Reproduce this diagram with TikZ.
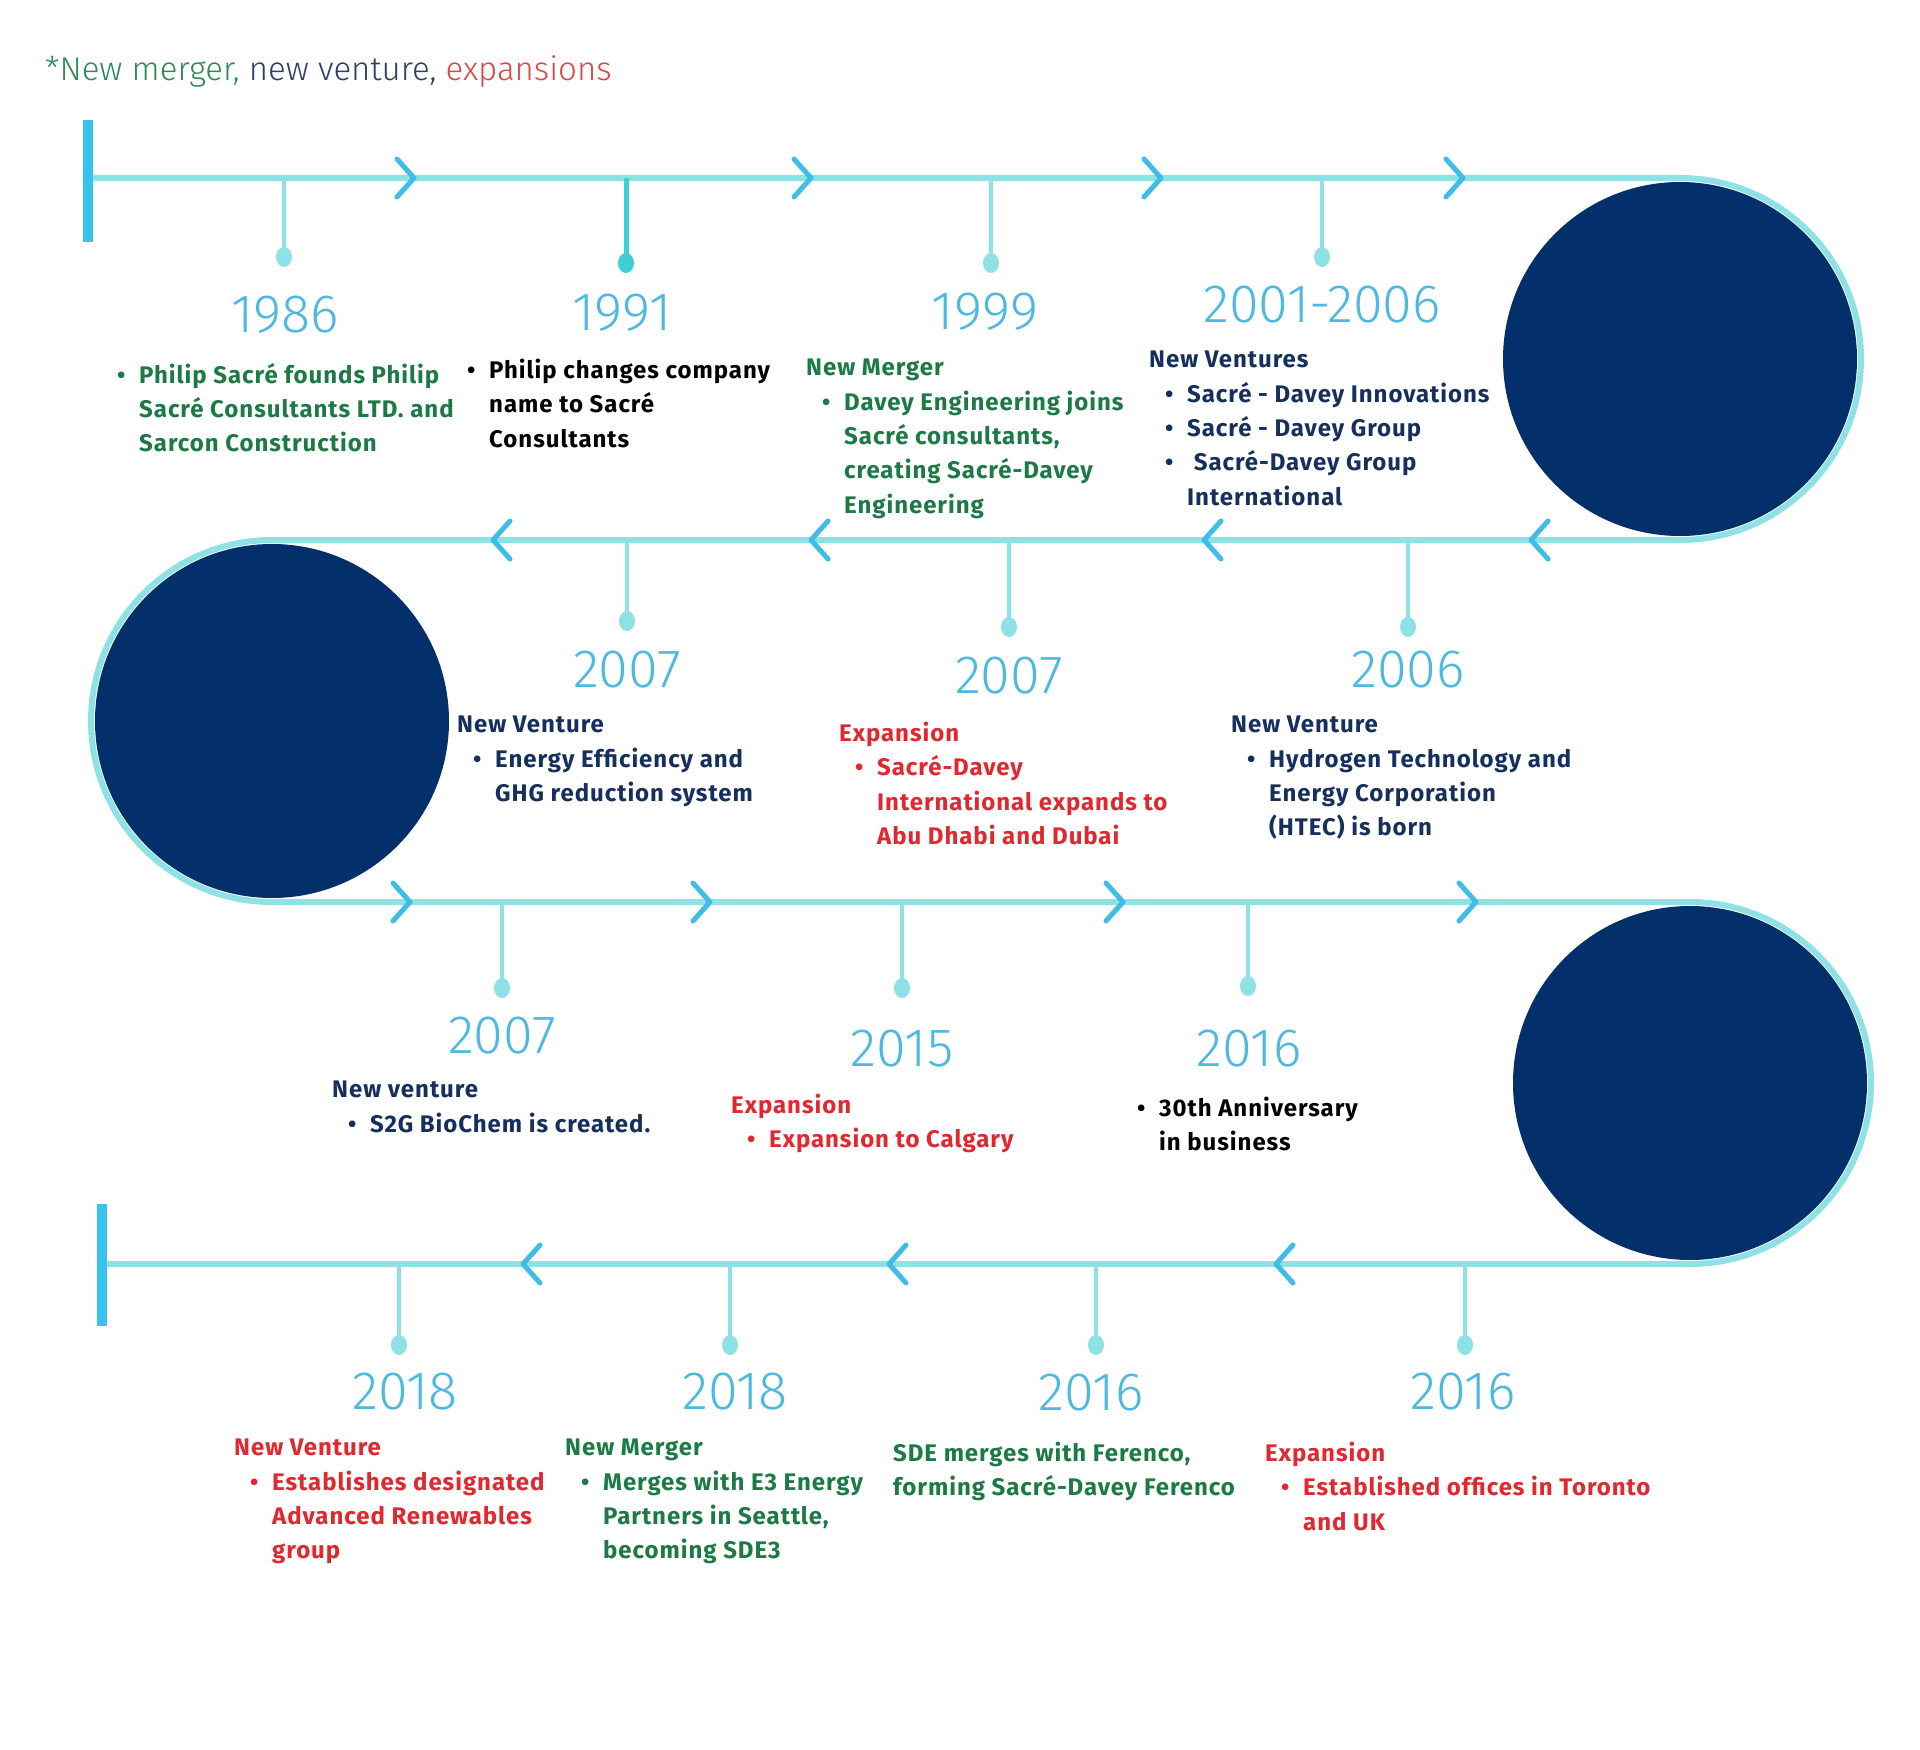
\documentclass[tikz,border=0pt]{standalone}
\usepackage{fontspec}
\setmainfont{Fira Sans}[LetterSpace=4]
\newfontfamily\yearfont{Fira Sans Light}
\usetikzlibrary{shapes.geometric}

\definecolor{tline}{HTML}{8EE2E6}
\definecolor{tchev}{HTML}{3DBDE8}
\definecolor{tbar}{HTML}{38C3EC}
\definecolor{ttick}{HTML}{3ECFD6}
\definecolor{tyear}{HTML}{4DB9E0}
\definecolor{tnavy}{HTML}{03306B}
\definecolor{tgreen}{HTML}{1C7A44}
\definecolor{tdark}{HTML}{15305E}
\definecolor{tred}{HTML}{E0282E}
\definecolor{hgreen}{HTML}{2F8A5A}
\definecolor{hnavy}{HTML}{2B3F6B}
\definecolor{hred}{HTML}{E04545}

\newcommand{\itm}{\hspace*{16pt}\makebox[22pt][l]{\textbullet}}
\newcommand{\cnt}{\hspace*{38pt}}

\begin{document}
\begin{tikzpicture}[x=1pt,y=-1pt,
  line/.style={tline,line width=6pt},
  bar/.style={tbar,line width=10pt},
  chev/.style={tchev,line width=5pt,line cap=round,line join=round},
  tick/.style={tline,line width=4pt},
  dot/.style={ellipse,fill=tline,inner sep=0pt,minimum width=16pt,minimum height=20pt},
  disc/.style={circle,fill=tnavy,inner sep=0pt,minimum size=354pt},
  year/.style={text=tyear,font=\yearfont\fontsize{54}{64}\selectfont,inner sep=0pt},
  evt/.style={anchor=north west,align=left,inner sep=0pt,font=\bfseries\fontsize{24}{34.3}\selectfont}]
  \useasboundingbox[fill=white] (0,0) rectangle (1920,1750);

  % legend line
  \node[anchor=west,inner sep=0pt,font=\yearfont\fontsize{33}{40}\selectfont] (title) at (45,71)
    {\color{hgreen}*New merger, \color{hnavy}new venture, \color{hred}expansions};

  % navy discs at the turns
  \node[disc] (c1) at (1680,359) {};
  \node[disc] (c2) at (272,721) {};
  \node[disc] (c3) at (1690,1083) {};

  % the winding time line
  \draw[line] (88,178) -- (1680,178) arc[start angle=-90,end angle=90,radius=181]
    -- (272,540) arc[start angle=-90,end angle=-270,radius=181]
    -- (1690,902) arc[start angle=-90,end angle=90,radius=181] -- (102,1264);
  \draw[bar] (88,120) -- (88,242);
  \draw[bar] (102,1204) -- (102,1326);

  % chevrons, row 1 and 3 to the right, row 2 and 4 to the left
  \draw[chev] (397,159) -- (414,178) -- (397,197);
  \draw[chev] (794,159) -- (811,178) -- (794,197);
  \draw[chev] (1144,159) -- (1161,178) -- (1144,197);
  \draw[chev] (1446,159) -- (1463,178) -- (1446,197);
  \draw[chev] (510,521) -- (493,540) -- (510,559);
  \draw[chev] (828,521) -- (811,540) -- (828,559);
  \draw[chev] (1221,521) -- (1204,540) -- (1221,559);
  \draw[chev] (1548,521) -- (1531,540) -- (1548,559);
  \draw[chev] (393,883) -- (410,902) -- (393,921);
  \draw[chev] (693,883) -- (710,902) -- (693,921);
  \draw[chev] (1106,883) -- (1123,902) -- (1106,921);
  \draw[chev] (1459,883) -- (1476,902) -- (1459,921);
  \draw[chev] (540,1245) -- (523,1264) -- (540,1283);
  \draw[chev] (906,1245) -- (889,1264) -- (906,1283);
  \draw[chev] (1293,1245) -- (1276,1264) -- (1293,1283);

  % ticks and dots
  \coordinate (k1) at (284,178);   \node[dot] (d1) at (284,257) {};
  \coordinate (k2) at (626,178);   \node[dot,fill=ttick] (d2) at (626,263) {};
  \coordinate (k3) at (991,178);   \node[dot] (d3) at (991,263) {};
  \coordinate (k4) at (1322,178);  \node[dot] (d4) at (1322,257) {};
  \coordinate (k5) at (627,540);   \node[dot] (d5) at (627,621) {};
  \coordinate (k6) at (1009,540);  \node[dot] (d6) at (1009,627) {};
  \coordinate (k7) at (1408,540);  \node[dot] (d7) at (1408,627) {};
  \coordinate (k8) at (502,902);   \node[dot] (d8) at (502,988) {};
  \coordinate (k9) at (902,902);   \node[dot] (d9) at (902,988) {};
  \coordinate (k10) at (1248,902); \node[dot] (d10) at (1248,986) {};
  \coordinate (k11) at (399,1264); \node[dot] (d11) at (399,1345) {};
  \coordinate (k12) at (730,1264); \node[dot] (d12) at (730,1345) {};
  \coordinate (k13) at (1096,1264);\node[dot] (d13) at (1096,1345) {};
  \coordinate (k14) at (1465,1264);\node[dot] (d14) at (1465,1345) {};
  \draw[tick] (k1) -- (d1.center);
  \draw[tick,ttick,line width=5pt] (k2) -- (d2.center);
  \draw[tick] (k3) -- (d3.center);
  \draw[tick] (k4) -- (d4.center);
  \draw[tick] (k5) -- (d5.center);
  \draw[tick] (k6) -- (d6.center);
  \draw[tick] (k7) -- (d7.center);
  \draw[tick] (k8) -- (d8.center);
  \draw[tick] (k9) -- (d9.center);
  \draw[tick] (k10) -- (d10.center);
  \draw[tick] (k11) -- (d11.center);
  \draw[tick] (k12) -- (d12.center);
  \draw[tick] (k13) -- (d13.center);
  \draw[tick] (k14) -- (d14.center);

  % years
  \node[year] (y1) at (285,315) {1986};
  \node[year] (y2) at (622,313) {1991};
  \node[year] (y3) at (985,312) {1999};
  \node[year] (y4) at (1322,305) {2001-2006};
  \node[year] (y5) at (627,670) {2007};
  \node[year] (y6) at (1009,676) {2007};
  \node[year] (y7) at (1408,670) {2006};
  \node[year] (y8) at (502,1036) {2007};
  \node[year] (y9) at (902,1049) {2015};
  \node[year] (y10) at (1249,1049) {2016};
  \node[year] (y11) at (405,1392) {2018};
  \node[year] (y12) at (735,1392) {2018};
  \node[year] (y13) at (1091,1393) {2016};
  \node[year] (y14) at (1463,1392) {2016};

  % events
  \node[evt,text=tgreen] (b1) at (101,363)
    {\itm Philip Sacré founds Philip\\ \cnt Sacré Consultants LTD. and\\ \cnt Sarcon Construction};
  \node[evt,text=black] (b2) at (451,359)
    {\itm Philip changes company\\ \cnt name to Sacré\\ \cnt Consultants};
  \node[evt,text=tgreen] (b3) at (806,359)
    {New Merger\\ \itm Davey Engineering joins\\ \cnt Sacré consultants,\\ \cnt creating Sacré-Davey\\ \cnt Engineering};
  \node[evt,text=tdark] (b4) at (1149,351)
    {New Ventures\\ \itm Sacré - Davey Innovations\\ \itm Sacré - Davey Group\\ \itm\ Sacré-Davey Group\\ \cnt International};
  \node[evt,text=tdark] (b5) at (457,716)
    {New Venture\\ \itm Energy Efficiency and\\ \cnt GHG reduction system};
  \node[evt,text=tred] (b6) at (839,722)
    {Expansion\\ \itm Sacré-Davey\\ \cnt International expands to\\ \cnt Abu Dhabi and Dubai};
  \node[evt,text=tdark] (b7) at (1231,716)
    {New Venture\\ \itm Hydrogen Technology and\\ \cnt Energy Corporation\\ \cnt (HTEC) is born};
  \node[evt,text=tdark] (b8) at (332,1081)
    {New venture\\ \itm S2G BioChem is created.};
  \node[evt,text=tred] (b9) at (731,1094)
    {Expansion\\ \itm Expansion to Calgary};
  \node[evt,text=black] (b10) at (1121,1097)
    {\itm 30th Anniversary\\ \cnt in business};
  \node[evt,text=tred] (b11) at (234,1439)
    {New Venture\\ \itm Establishes designated\\ \cnt Advanced Renewables\\ \cnt group};
  \node[evt,text=tgreen] (b12) at (565,1439)
    {New Merger\\ \itm Merges with E3 Energy\\ \cnt Partners in Seattle,\\ \cnt becoming SDE3};
  \node[evt,text=tgreen] (b13) at (893,1442)
    {SDE merges with Ferenco,\\ forming Sacré-Davey Ferenco};
  \node[evt,text=tred] (b14) at (1265,1442)
    {Expansion\\ \itm Established offices in Toronto\\ \cnt and UK};
\end{tikzpicture}
\end{document}
